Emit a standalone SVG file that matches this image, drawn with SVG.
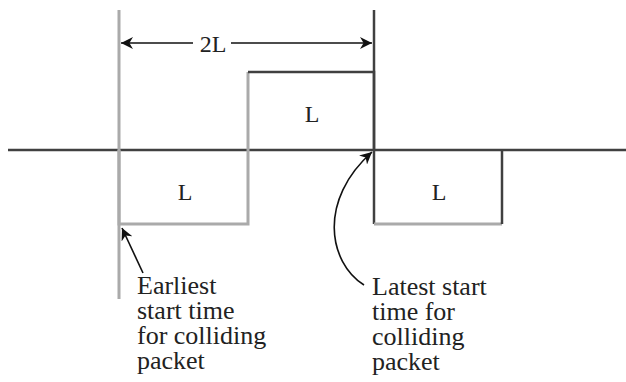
<svg xmlns="http://www.w3.org/2000/svg" width="626" height="382" viewBox="0 0 626 382">
<style>
.dark{stroke:#404040;stroke-width:2.5;fill:none}
.gray{stroke:#aaaaaa;stroke-width:3;fill:none}
.t{font-family:'Liberation Serif','DejaVu Serif','Times New Roman',serif;font-size:24px;fill:#222}
.lbl{font-family:'Liberation Serif','DejaVu Serif','Times New Roman',serif;font-size:26px;fill:#222}
.conn{stroke:#111;stroke-width:1.6;fill:none}
</style>
<defs>
<marker id="ah2" viewBox="0 0 10 10" refX="10" refY="5" markerWidth="12" markerHeight="12" orient="auto-start-reverse" markerUnits="userSpaceOnUse">
<path d="M0,0 L10,5 L0,10 L3,5 Z" fill="#111"/>
</marker>
</defs>
<g id="axis">
<line class="dark" x1="8" y1="150" x2="626" y2="150" stroke-width="2"/>
</g>
<g id="earliest-marker">
<line class="gray" x1="119" y1="10" x2="119" y2="299"/>
</g>
<g id="latest-marker">
<line class="dark" x1="374" y1="10" x2="374" y2="150"/>
</g>
<g id="packet-earliest">
<polyline class="gray" points="119,150 119,224 248,224 248,150"/>
<text class="t" x="185" y="200" text-anchor="middle">L</text>
</g>
<g id="packet-middle">
<polyline class="gray" points="248,150 248,72"/>
<polyline class="dark" points="248,72 374,72 374,150"/>
<text class="t" x="312" y="122" text-anchor="middle">L</text>
</g>
<g id="packet-latest">
<polyline class="dark" points="374,150 374,224"/>
<polyline class="gray" points="374,224 502,224"/>
<polyline class="dark" points="502,224 502,150"/>
<text class="t" x="439" y="200" text-anchor="middle">L</text>
</g>
<g id="dimension-label">
<text class="t" x="213" y="52" text-anchor="middle">2L</text>
</g>
<g id="label-earliest">
<text class="lbl" x="137" y="294">Earliest</text>
<text class="lbl" x="137" y="319">start time</text>
<text class="lbl" x="137" y="344">for colliding</text>
<text class="lbl" x="137" y="369">packet</text>
</g>
<g id="label-latest">
<text class="lbl" x="372" y="295">Latest start</text>
<text class="lbl" x="372" y="320">time for</text>
<text class="lbl" x="372" y="345">colliding</text>
<text class="lbl" x="372" y="370">packet</text>
</g>
<g id="connectors">
<line class="conn" x1="193" y1="43" x2="121" y2="43" marker-end="url(#ah2)"/>
<line class="conn" x1="231" y1="43" x2="372" y2="43" marker-end="url(#ah2)"/>
<line class="conn" x1="143" y1="273" x2="122" y2="228" marker-end="url(#ah2)"/>
<path class="conn" d="M364,285 C328,262 318,200 372,152" marker-end="url(#ah2)"/>
</g>
</svg>
